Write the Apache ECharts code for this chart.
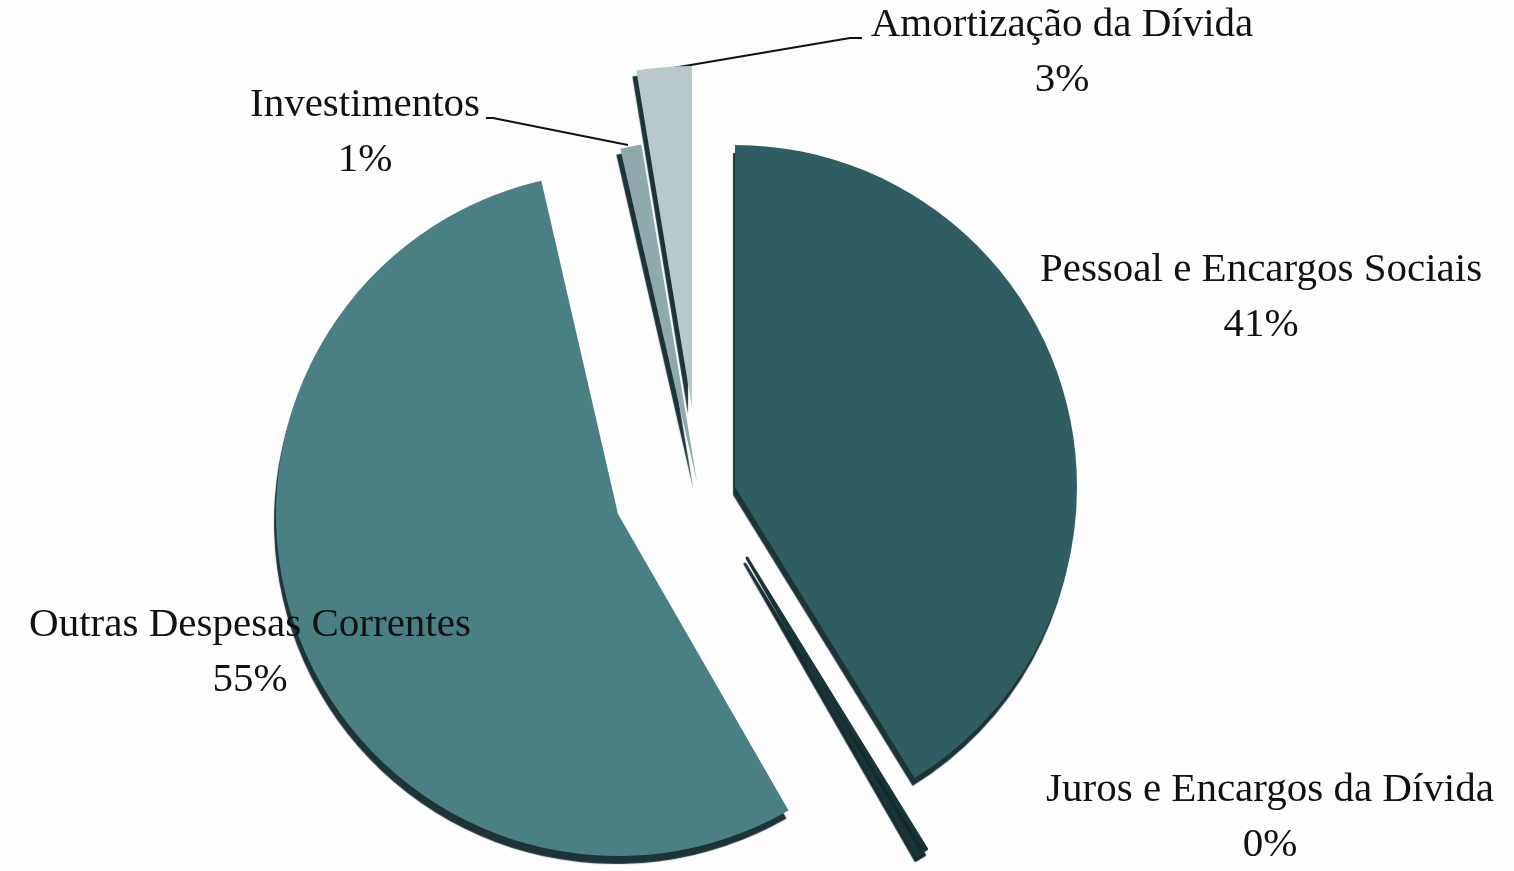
<!DOCTYPE html>
<html><head><meta charset="utf-8">
<script src="https://cdn.jsdelivr.net/npm/echarts@6/dist/echarts.min.js"></script>
<style>html,body{margin:0;padding:0;background:#fdfdfd}#c{width:1514px;height:871px}</style>
</head><body><div id="c"></div>
<script>
const categories = ['Pessoal e Encargos Sociais','Juros e Encargos da Dívida','Outras Despesas Correntes','Investimentos','Amortização da Dívida'];
const values = [41.2, 0.49, 54.71, 1.0, 2.6];
const colors = ['#305d62','#1a3538','#4a7f84','#8fa9ad','#b8c8cb'];
// layout: exploded slice centres and label anchor points
const centers = [[735,487],[747,558],[618,514],[697,482],[692,408]];
const labelPos = [[1261,298],[1270,818],[250,653],[365,133],[1062,53]];
const leaderLines = [null,null,null,[[628,145],[493,118],[486,118]],[[667,69],[850,38],[862,38]]];
const shadowOffsets = [[-2,8],[-2,6],[-2,8],[-4,6],[-4,6]];
const borderWidths = [0,3,0,0,0];

const chart = echarts.init(document.getElementById('c'), null, {renderer:'canvas'});
const series = categories.map((name,i)=>({
  type:'pie',
  center: centers[i],
  radius: [0, 342],
  startAngle: 90,
  clockwise: true,
  animation:false,
  silent:true,
  avoidLabelOverlap:false,
  label:{show:false},
  labelLine:{show:false},
  data: categories.map((n,j)=> j===i ? {
    name:n, value:values[j],
    itemStyle:{color:colors[j], borderColor:colors[j], borderWidth:borderWidths[j], borderJoin:'round',
      shadowColor:'rgba(18,40,43,0.95)', shadowBlur:1, shadowOffsetX:shadowOffsets[j][0], shadowOffsetY:shadowOffsets[j][1]},
    label:{show:true, position:'outside', fontFamily:'Liberation Serif', fontSize:41, lineHeight:55, color:'#111', align:'center',
      formatter: p => p.name + '\n' + Math.round(p.percent) + '%'},
    labelLine:{show: !!leaderLines[j], lineStyle:{color:'#111', width:2}}
  } : {
    name:n, value:values[j],
    itemStyle:{color:'rgba(0,0,0,0)'},
    label:{show:false}, labelLine:{show:false}
  }),
  labelLayout: function(p){
    if (p.dataIndex !== i) return {};
    const r = {x:labelPos[i][0], y:labelPos[i][1], align:'center', verticalAlign:'middle'};
    if (leaderLines[i]) r.labelLinePoints = leaderLines[i];
    return r;
  }
}));
chart.setOption({backgroundColor:'#fdfdfd', animation:false, series});
</script></body></html>
